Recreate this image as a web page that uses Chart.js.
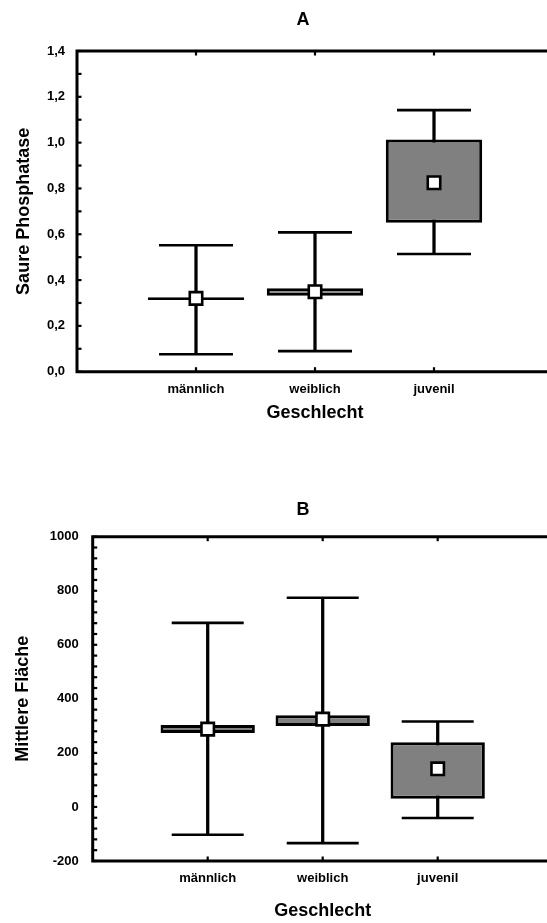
<!DOCTYPE html>
<html><head><meta charset="utf-8">
<script src="https://cdn.jsdelivr.net/npm/chart.js@4/dist/chart.umd.min.js"></script>
<style>
html,body{margin:0;padding:0;background:#fff;overflow:hidden;width:547px;height:923px;position:relative}
#wa{position:absolute;left:0;top:0;width:606px;height:460px}
#wb{position:absolute;left:0;top:460px;width:606px;height:463px}
</style></head><body>
<div id="wa"><canvas id="ca"></canvas></div>
<div id="wb"><canvas id="cb"></canvas></div>
<script>
// ---------- data ----------
const categories = ['männlich', 'weiblich', 'juvenil'];
const xTitle = 'Geschlecht';

// Panel A
const titleA = 'A';
const yTitleA = 'Saure Phosphatase';
const meanA        = [0.320, 0.349, 0.825];
const boxLowA      = [0.313, 0.332, 0.650];
const boxHighA     = [0.325, 0.364, 1.014];
const whiskerLowA  = [0.076, 0.090, 0.514];
const whiskerHighA = [0.552, 0.608, 1.142];
const yTickLabelsA = ['0,0', '0,2', '0,4', '0,6', '0,8', '1,0', '1,2', '1,4'];
const yMinA = 0, yMaxA = 1.4, yStepA = 0.1, yMajorEveryA = 2;

// Panel B
const titleB = 'B';
const yTitleB = 'Mittlere Fläche';
const meanB        = [288, 325, 141];
const boxLowB      = [274, 300, 30];
const boxHighB     = [303, 339, 239];
const whiskerLowB  = [-103, -134, -41];
const whiskerHighB = [681, 774, 316];
const yTickLabelsB = ['-200', '0', '200', '400', '600', '800', '1000'];
const yMinB = -200, yMaxB = 1000, yStepB = 40, yMajorEveryB = 5;

// ---------- drawing ----------
const FONT = "'Liberation Sans', Arial, Helvetica, sans-serif";
const pad = arr => [null, ...arr, null];
const pairs = (lo, hi) => pad(lo.map((v, i) => [v, hi[i]]));

const framePlugin = {
  id: 'frame',
  afterDatasetsDraw(chart) {
    const {ctx, chartArea: a, scales: {x, y}} = chart;
    ctx.save();
    ctx.strokeStyle = '#000';
    ctx.lineWidth = 2.2;
    ctx.lineCap = 'butt';
    y.ticks.forEach(t => {
      const py = y.getPixelForValue(t.value);
      ctx.beginPath(); ctx.moveTo(a.left, py); ctx.lineTo(a.left + 4.5, py); ctx.stroke();
    });
    x.ticks.forEach((t, i) => {
      if (!x.getLabelForValue(t.value)) return;
      const px = x.getPixelForTick(i);
      ctx.beginPath(); ctx.moveTo(px, a.top); ctx.lineTo(px, a.top + 4.5); ctx.stroke();
      ctx.beginPath(); ctx.moveTo(px, a.bottom); ctx.lineTo(px, a.bottom - 4.5); ctx.stroke();
    });
    ctx.lineWidth = 3;
    ctx.lineCap = 'square';
    ctx.beginPath();
    ctx.rect(a.left, a.top, a.right - a.left, a.bottom - a.top);
    ctx.stroke();
    ctx.restore();
  }
};

function makeChart(id, p) {
  const labels = ['', ...categories, ''];
  return new Chart(document.getElementById(id), {
    type: 'bar',
    data: {
      labels,
      datasets: [
        { type: 'bar', data: pairs(p.wLo, p.wHi), backgroundColor: '#000', borderWidth: 0,
          barThickness: 2.6, grouped: false, order: 5 },
        { type: 'line', data: pad(p.wHi), showLine: false, pointStyle: 'line', pointRadius: p.capR,
          pointBorderColor: '#000', pointBorderWidth: 2.6, borderColor: '#000', borderWidth: 2.6, order: 4 },
        { type: 'line', data: pad(p.wLo), showLine: false, pointStyle: 'line', pointRadius: p.capR,
          pointBorderColor: '#000', pointBorderWidth: 2.6, borderColor: '#000', borderWidth: 2.6, order: 4 },
        { type: 'bar', data: pairs(p.bLo, p.bHi), backgroundColor: '#808080', borderColor: '#000',
          borderWidth: 3, borderSkipped: false, grouped: false,
          categoryPercentage: p.boxPct, barPercentage: 1, order: 3 },
        { type: 'line', data: pad(p.mean), showLine: false, pointStyle: 'rect', pointRadius: 8.8,
          pointBackgroundColor: '#fff', pointBorderColor: '#000', pointBorderWidth: 2.6,
          borderColor: '#000', order: 1 }
      ]
    },
    options: {
      responsive: true, maintainAspectRatio: false, animation: false, events: [],
      layout: { padding: 0 },
      plugins: {
        legend: { display: false }, tooltip: { enabled: false },
        title: { display: true, text: p.title, color: '#000',
          font: { family: FONT, size: 18, weight: 'bold' },
          padding: { top: p.tPadTop, bottom: p.tPadBot } }
      },
      scales: {
        x: {
          type: 'category', offset: false,
          grid: { display: false, drawTicks: false }, border: { display: false },
          ticks: { color: '#000', font: { family: FONT, size: 13, weight: 'bold' },
            padding: p.xTickPad, autoSkip: false, maxRotation: 0 },
          title: { display: true, text: xTitle, color: '#000',
            font: { family: FONT, size: 18, weight: 'bold' }, padding: { top: 0, bottom: p.xTitlePad } },
          afterFit(s) { s.height = p.xAxisH; }
        },
        y: {
          type: 'linear', min: p.yMin, max: p.yMax,
          grid: { display: false, drawTicks: false }, border: { display: false },
          ticks: { stepSize: p.yStep, autoSkip: false, color: '#000', padding: p.yTickPad,
            font: { family: FONT, size: 13, weight: 'bold' },
            callback: (v, i) => (i % p.majorEvery === 0 ? p.yLabels[i / p.majorEvery] : '') },
          title: { display: true, text: p.yTitle, color: '#000',
            font: { family: FONT, size: 18, weight: 'bold' }, padding: { top: p.yTitlePad, bottom: 0 } },
          afterFit(s) { s.width = p.leftW; }
        },
        yR: {
          type: 'linear', position: 'right', display: true,
          grid: { display: false, drawTicks: false }, border: { display: false },
          ticks: { display: false }, title: { display: false },
          afterFit(s) { s.width = p.rightW; }
        }
      }
    },
    plugins: [framePlugin]
  });
}

makeChart('ca', {
  title: titleA, yTitle: yTitleA, mean: meanA, bLo: boxLowA, bHi: boxHighA, wLo: whiskerLowA, wHi: whiskerHighA,
  yMin: yMinA, yMax: yMaxA, yStep: yStepA, majorEvery: yMajorEveryA, yLabels: yTickLabelsA,
  capR: 37, boxPct: 0.81, tPadTop: 9, tPadBot: 20.4, xAxisH: 88.3, xTickPad: 9.5, xTitlePad: 36,
  yTickPad: 12, yTitlePad: 13, leftW: 77, rightW: 53
});
makeChart('cb', {
  title: titleB, yTitle: yTitleB, mean: meanB, bLo: boxLowB, bHi: boxHighB, wLo: whiskerLowB, wHi: whiskerHighB,
  yMin: yMinB, yMax: yMaxB, yStep: yStepB, majorEvery: yMajorEveryB, yLabels: yTickLabelsB,
  capR: 36, boxPct: 0.82, tPadTop: 39.2, tPadBot: 15.9, xAxisH: 62, xTickPad: 10, xTitlePad: 1.2,
  yTickPad: 14, yTitlePad: 12.7, leftW: 92.7, rightW: 53.3
});
</script>
</body></html>
